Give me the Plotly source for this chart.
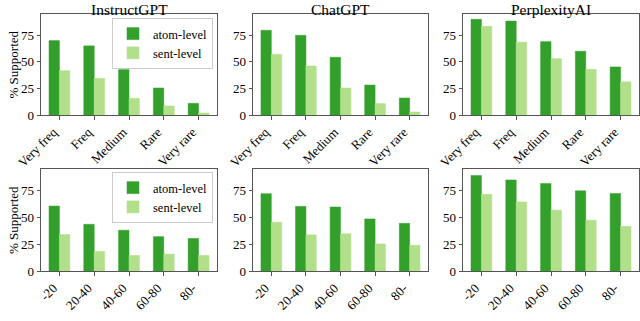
import plotly.graph_objects as go

# --- data ---
freq_cats = ["Very freq", "Freq", "Medium", "Rare", "Very rare"]
pos_cats = ["-20", "20-40", "40-60", "60-80", "80-"]
models = ["InstructGPT", "ChatGPT", "PerplexityAI"]

# top row: by entity frequency
freq_atom_instruct = [70, 65, 42.7, 25.4, 11]
freq_sent_instruct = [41.7, 34.5, 15.7, 8.5, 1.9]
freq_atom_chat = [79.7, 75, 54.3, 28.2, 16]
freq_sent_chat = [57.1, 46.1, 25.4, 10.7, 2.8]
freq_atom_perp = [90, 88.3, 69, 60, 45.2]
freq_sent_perp = [83.5, 68.5, 53, 43, 31.2]

# bottom row: by position in generation
pos_atom_instruct = [60.5, 43.5, 38, 32, 30.3]
pos_sent_instruct = [34, 18.3, 14.5, 15.8, 14.5]
pos_atom_chat = [72, 60.2, 59.6, 48.5, 44.4]
pos_sent_chat = [45.4, 33.7, 34.7, 25.2, 24]
pos_atom_perp = [88.9, 84.8, 81.6, 74.7, 72.2]
pos_sent_perp = [71.5, 64.3, 56.7, 47.3, 41.6]

ATOM = "#33a02c"
SENT = "#b2df8a"
FONT = "Liberation Serif"
W, H = 640, 321

top = [(freq_atom_instruct, freq_sent_instruct),
       (freq_atom_chat, freq_sent_chat),
       (freq_atom_perp, freq_sent_perp)]
bottom = [(pos_atom_instruct, pos_sent_instruct),
          (pos_atom_chat, pos_sent_chat),
          (pos_atom_perp, pos_sent_perp)]

# panel placement in pixels
xs_px = [(41, 217), (253, 428), (463, 639)]
ys_px = [(14, 115), (169, 271)]

fig = go.Figure()
layout = dict(width=W, height=H, margin=dict(l=0, r=0, t=0, b=0, autoexpand=False),
              plot_bgcolor="white", paper_bgcolor="white",
              barmode="group", bargap=0.4, bargroupgap=0,
              font=dict(family=FONT, size=13, color="black"))

axis_style = dict(showline=True, mirror=True, linecolor="#555", linewidth=1,
                  ticks="outside", ticklen=3.5, tickcolor="#555",
                  showgrid=False, zeroline=False, automargin=False,
                  tickfont=dict(family=FONT, size=13, color="black"))

annotations = []
n = 0
for r, (rows, cats) in enumerate([(top, freq_cats), (bottom, pos_cats)]):
    for c, (atom, sent) in enumerate(rows):
        n += 1
        xa = "x" if n == 1 else f"x{n}"
        ya = "y" if n == 1 else f"y{n}"
        leg = "legend" if r == 0 else "legend2"
        show = c == 0
        fig.add_trace(go.Bar(x=cats, y=atom, name="atom-level", marker_color=ATOM,
                             marker_line=dict(color=ATOM, width=0.5),
                             xaxis=xa, yaxis=ya, showlegend=show, legend=leg,
                             offsetgroup="a"))
        fig.add_trace(go.Bar(x=cats, y=sent, name="sent-level", marker_color=SENT,
                             marker_line=dict(color=SENT, width=0.5),
                             xaxis=xa, yaxis=ya, showlegend=show, legend=leg,
                             offsetgroup="s"))
        x0, x1 = xs_px[c]
        y0, y1 = ys_px[r]
        xkey = "xaxis" if n == 1 else f"xaxis{n}"
        ykey = "yaxis" if n == 1 else f"yaxis{n}"
        layout[xkey] = dict(axis_style, domain=[x0 / W, x1 / W], anchor=ya,
                            range=[-0.53, 4.53], tickangle=-45, type="category",
                            ticklabelshift=-6)
        layout[ykey] = dict(axis_style, domain=[1 - y1 / H, 1 - y0 / H], anchor=xa,
                            range=[0, 95], tickvals=[0, 25, 50, 75])
        if r == 0:
            annotations.append(dict(text=models[c], x=(x0 + x1) / 2 / W, y=1 - 9 / H,
                                    xref="paper", yref="paper", xanchor="center",
                                    yanchor="middle", showarrow=False,
                                    font=dict(family=FONT, size=15.5, color="black")))
        if c == 0:
            annotations.append(dict(text="% Supported", x=13 / W, y=1 - (y0 + y1) / 2 / H,
                                    xref="paper", yref="paper", xanchor="center",
                                    yanchor="middle", textangle=-90, showarrow=False,
                                    font=dict(family=FONT, size=13, color="black")))

legend_style = dict(x=213 / W, xanchor="right", bgcolor="white",
                    bordercolor="#ccc", borderwidth=1,
                    font=dict(family=FONT, size=12.5, color="black"),
                    itemwidth=30, tracegroupgap=0)
layout["legend"] = dict(legend_style, y=1 - 18 / H, yanchor="top")
layout["legend2"] = dict(legend_style, y=1 - 172 / H, yanchor="top")
layout["annotations"] = annotations

fig.update_layout(**layout)
# drop the browser's default body margin so the figure sits at the page corner
fig.write_html("out.html", config={"displayModeBar": False},
               post_script="document.body.style.margin='0';")
